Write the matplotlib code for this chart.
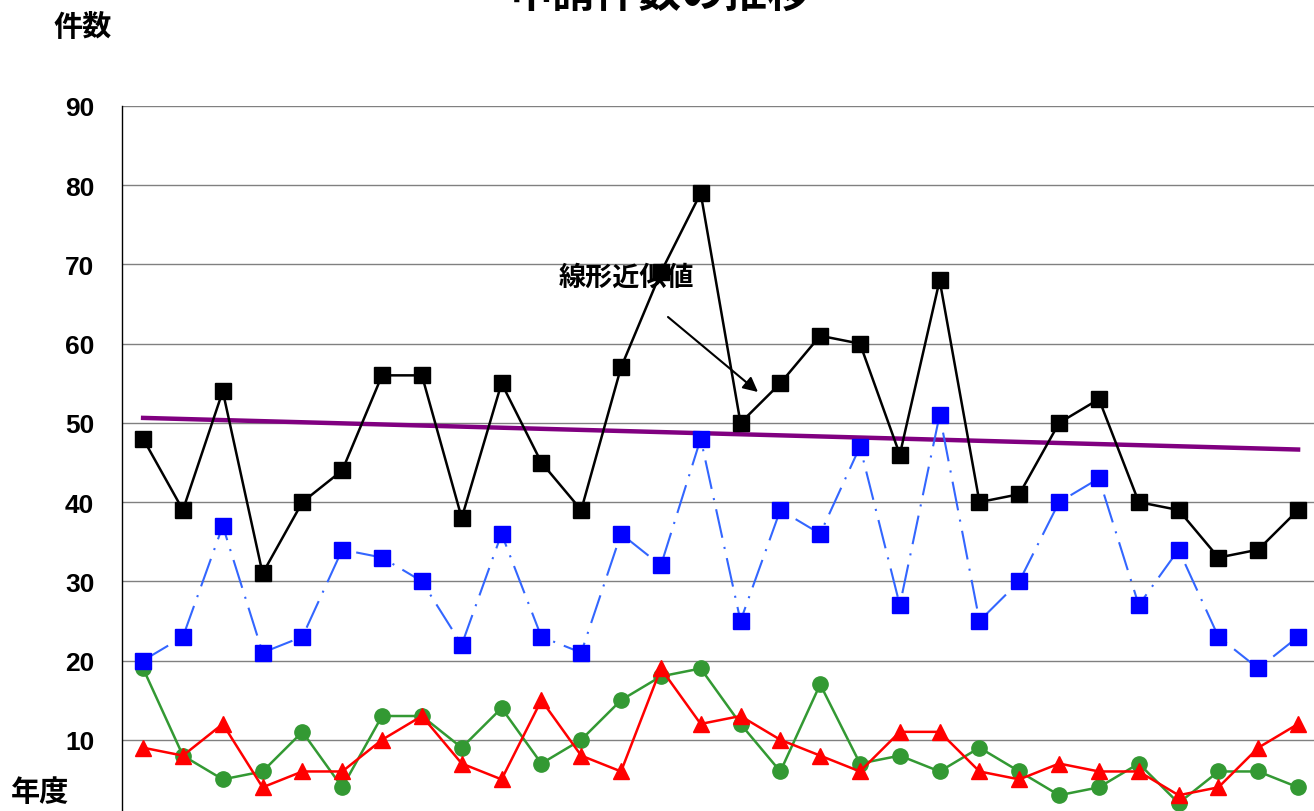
import matplotlib
matplotlib.use("Agg")
import matplotlib.pyplot as plt
import numpy as np

plt.rcParams["font.family"] = ["Noto Sans CJK JP", "DejaVu Sans"]

# 30 fiscal years (labels fall below the visible area)
years = list(range(30))

total = [48, 39, 54, 31, 40, 44, 56, 56, 38, 55, 45, 39, 57, 69, 79,
         50, 55, 61, 60, 46, 68, 40, 41, 50, 53, 40, 39, 33, 34, 39]
blue = [20, 23, 37, 21, 23, 34, 33, 30, 22, 36, 23, 21, 36, 32, 48,
        25, 39, 36, 47, 27, 51, 25, 30, 40, 43, 27, 34, 23, 19, 23]
green = [19, 8, 5, 6, 11, 4, 13, 13, 9, 14, 7, 10, 15, 18, 19,
         12, 6, 17, 7, 8, 6, 9, 6, 3, 4, 7, 2, 6, 6, 4]
red = [9, 8, 12, 4, 6, 6, 10, 13, 7, 5, 15, 8, 6, 19, 12,
       13, 10, 8, 6, 11, 11, 6, 5, 7, 6, 6, 3, 4, 9, 12]

W, H = 1314, 812
fig = plt.figure(figsize=(W / 100, H / 100), dpi=100)

# axes extends past the bottom / right edge, like the cropped original
left, right, top, bottom = 122, 1318, 107, 820
ax = fig.add_axes([left / W, 1 - bottom / H, (right - left) / W, (bottom - top) / H])

x = np.array(years)

# trend line of the total series
k, b = np.polyfit(x, total, 1)
ax.plot(x, k * x + b, color="#800080", lw=3.2, zorder=2)

ax.plot(x, total, color="black", lw=1.8, marker="s", ms=11,
        mfc="black", mec="black", zorder=4)
ax.plot(x, blue, color="#3366FF", lw=1.5, ls=(0, (14, 4.5, 1, 4.5)),
        marker="s", ms=11, mfc="#0000FF", mec="#0000FF", zorder=4)
ax.plot(x, green, color="#339933", lw=1.8, marker="o", ms=11,
        mfc="#339933", mec="#339933", zorder=3)
ax.plot(x, red, color="#FF0000", lw=1.8, marker="^", ms=11.5,
        mfc="#FF0000", mec="#FF0000", zorder=3)

ax.set_xlim(-0.53, 29.5)
ax.set_ylim(0, 90)
ax.set_yticks(range(0, 91, 10))
ax.set_xticks([])
ax.yaxis.grid(True, color="#808080", lw=1.0)
ax.set_axisbelow(True)
for s in ["top", "right", "bottom"]:
    ax.spines[s].set_visible(False)
ax.spines["left"].set_color("black")
ax.spines["left"].set_linewidth(1.0)
ax.tick_params(axis="y", length=0, pad=20)
for lab in ax.get_yticklabels():
    lab.set_fontfamily(["Liberation Sans", "DejaVu Sans"])
    lab.set_fontweight("bold")
    lab.set_fontsize(19)

# titles / axis captions
fig.text(660 / W, 1 + 6 / H, "申請件数の推移", ha="center", va="center",
         fontsize=31, fontweight="bold")
fig.text(83 / W, 1 - 27 / H, "件数", ha="center", va="center",
         fontsize=21, fontweight="bold")
fig.text(40 / W, 1 - 792 / H, "年度", ha="center", va="center",
         fontsize=21, fontweight="bold")

# annotation for the trend line
fig.text(626 / W, 1 - 278 / H, "線形近似値", ha="center", va="center",
         fontsize=19.5, fontweight="bold")
ax.annotate("", xy=(758 / W, 1 - 393 / H), xytext=(668 / W, 1 - 318 / H),
            xycoords="figure fraction", textcoords="figure fraction",
            arrowprops=dict(arrowstyle="-|>", color="black", lw=1.5,
                            mutation_scale=22, shrinkA=0, shrinkB=0))

fig.savefig("out.png", dpi=100)
